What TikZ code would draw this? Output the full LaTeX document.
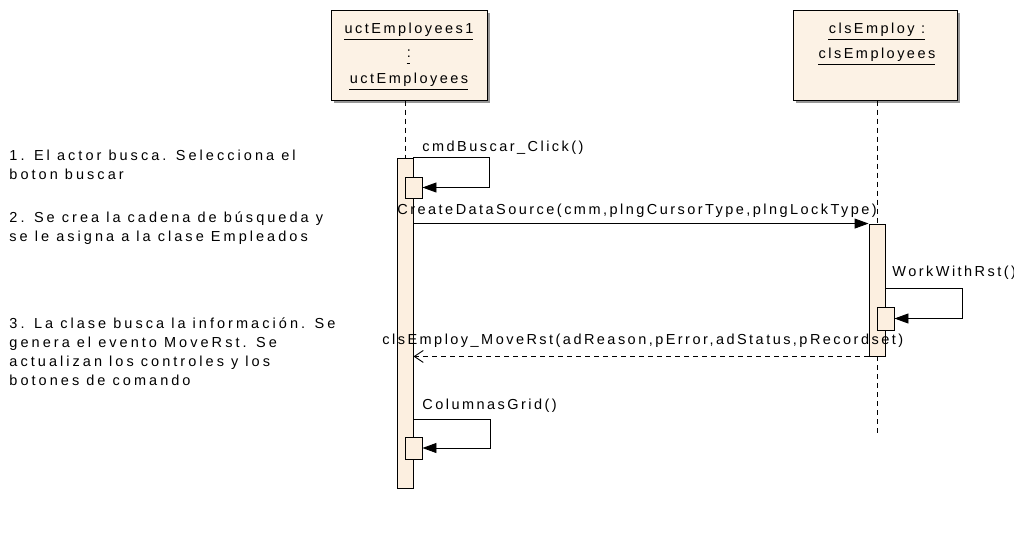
\documentclass[tikz,border=0pt]{standalone}
\usepackage{fontspec}
\setmainfont{Liberation Sans}[LetterSpace=17]
\newfontfamily\notefont{Liberation Sans}[LetterSpace=21]
\usetikzlibrary{arrows.meta}
\definecolor{boxfill}{RGB}{252,242,229}
\definecolor{actfill}{RGB}{252,239,224}
\definecolor{shadowgray}{RGB}{150,150,150}
\begin{document}
\begin{tikzpicture}[x=1pt,y=-1pt,
  font=\fontsize{14.5}{16}\selectfont,
  line width=0.9pt,
  hdr/.style={draw=black, fill=boxfill, line width=1pt, inner sep=0pt},
  act/.style={draw=black, fill=actfill, inner sep=0pt, minimum width=16pt},
  nest/.style={draw=black, fill=actfill, inner sep=0pt, minimum width=17pt},
  life/.style={draw=black, dash pattern=on 5pt off 4pt},
  msg/.style={draw=black, -{Triangle[length=14pt,width=10pt]}},
  ret/.style={draw=black, dash pattern=on 5pt off 4pt, -{Straight Barb[length=9pt,width=12pt]}},
  lbl/.style={inner sep=0pt, anchor=base west},
  txt/.style={inner sep=0pt, anchor=base west, font=\notefont\fontsize{14.5}{16}\selectfont}
]
\useasboundingbox (0,0) rectangle (1014,533);

% header boxes with shadow
\fill[shadowgray] (334,13) rectangle (490,103);
\fill[shadowgray] (796,13) rectangle (960,103);
\node[hdr, minimum width=156pt, minimum height=90pt] (box1) at (409,55) {};
\node[hdr, minimum width=164pt, minimum height=90pt] (box2) at (875,55) {};

\node[inner sep=0pt, anchor=base] (h1a) at (409,33) {uctEmployees1};
\node[inner sep=0pt, anchor=base] (h1b) at (409,57) {:};
\node[inner sep=0pt, anchor=base] (h1c) at (409,83) {uctEmployees};
\node[inner sep=0pt, anchor=base] (h2a) at (877,33) {clsEmploy :};
\node[inner sep=0pt, anchor=base] (h2b) at (877,58) {clsEmployees};
\foreach \n in {h1a,h1b,h1c,h2a,h2b}{
  \draw[line width=0.9pt] ([yshift=-6pt]\n.base west) -- ([yshift=-6pt,xshift=-1pt]\n.base east);
}

% activations
\node[act, minimum height=330pt] (act1) at (405,323) {};
\node[act, minimum height=132pt] (act2) at (877,290) {};

% lifelines
\draw[life] (act1.north |- box1.south) -- (act1.north);
\draw[life] (act2.north |- box2.south) -- (act2.north);
\coordinate (end2) at (877,436);
\draw[life] (act2.south) -- (end2);

% nested activations
\node[nest, minimum height=21pt] (n1) at (413.5,187.5) {};
\node[nest, minimum height=23pt] (n2) at (885.5,318.5) {};
\node[nest, minimum height=22pt] (n3) at (413.5,448) {};

% self call 1
\draw[msg] (act1.north east) -- ++(76,0) |- (n1.east);
\node[lbl] (l1) at (422,151) {cmdBuscar\_Click()};

% CreateDataSource
\draw[msg] (act1.east |- act2.north) -- (act2.north west);
\node[lbl] (l2) at (397,214) {CreateDataSource(cmm,plngCursorType,plngLockType)};

% WorkWithRst
\coordinate (w1) at (885,288);
\draw[msg] (w1) -- ++(77,0) |- (n2.east);
\node[lbl] (l3) at (892,276) {WorkWithRst()};

% return
\node[lbl] (l4) at (382,344) {clsEmploy\_MoveRst(adReason,pError,adStatus,pRecordset)};
\draw[ret] (act2.south west) -- (act1.east |- act2.south);

% ColumnasGrid
\coordinate (c1) at (413,419);
\draw[msg] (c1) -- ++(77,0) |- (n3.east);
\node[lbl] (l5) at (422,409) {ColumnasGrid()};

% notes
\node[txt] (t1) at (9,160) {1. El actor busca. Selecciona el};
\node[txt] (t2) at (9,179) {boton buscar};
\node[txt] (t3) at (9,222) {2. Se crea la cadena de búsqueda y};
\node[txt] (t4) at (9,241) {se le asigna a la clase Empleados};
\node[txt] (t5) at (9,328) {3. La clase busca la información. Se};
\node[txt] (t6) at (9,347) {genera el evento MoveRst. Se};
\node[txt] (t7) at (9,366) {actualizan los controles y los};
\node[txt] (t8) at (9,385) {botones de comando};
\end{tikzpicture}
\end{document}
